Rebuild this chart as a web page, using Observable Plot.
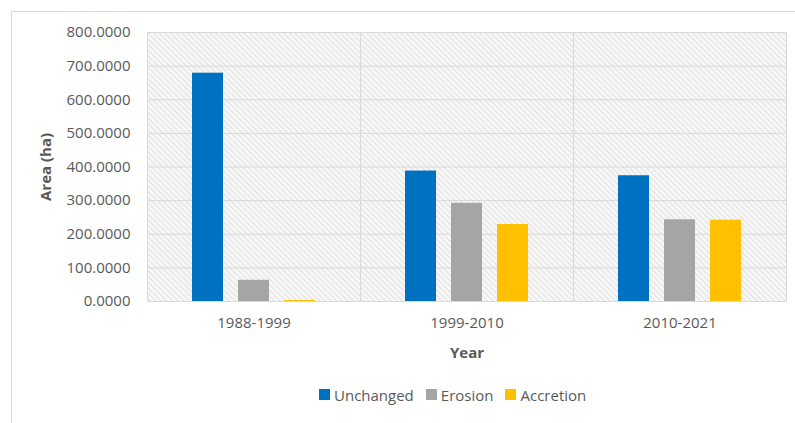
<!DOCTYPE html>
<html>
<head>
<meta charset="utf-8">
<script src="https://cdn.jsdelivr.net/npm/d3@7"></script>
<script src="https://cdn.jsdelivr.net/npm/@observablehq/plot@0.6"></script>
<style>
  html, body { margin: 0; padding: 0; background: #fff; }
  #wrap { position: relative; width: 795px; height: 423px; overflow: hidden; font-family: "Open Sans", sans-serif; }
  #border { position: absolute; left: 11px; top: 11px; width: 800px; height: 420px; border-left: 1px solid #d9d9d9; border-top: 1px solid #d9d9d9; }
  #chart { position: absolute; left: 0; top: 0; }
  #legend { position: absolute; top: 378px; left: 319px; }
</style>
</head>
<body>
<div id="wrap">
  <div id="border"></div>
  <div id="chart"></div>
  <div id="legend"></div>
</div>
<script>
const years = ["1988-1999", "1999-2010", "2010-2021"];
const series = ["Unchanged", "Erosion", "Accretion"];
const unchanged = [679, 388, 374];
const erosion = [63, 292, 243];
const accretion = [3, 229, 242];
const colors = ["#0070C0", "#A5A5A5", "#FFC000"];
const yTicks = [0, 100, 200, 300, 400, 500, 600, 700, 800];

const values = {Unchanged: unchanged, Erosion: erosion, Accretion: accretion};
const data = years.flatMap((yr, i) => series.map(s => ({year: yr, series: s, value: values[s][i]})));

const plot = Plot.plot({
  width: 795,
  height: 423,
  marginTop: 32,
  marginLeft: 146,
  marginRight: 8,
  marginBottom: 122,
  style: {fontFamily: "Open Sans, sans-serif", fontSize: "15px", color: "#595959", background: "transparent", overflow: "visible"},
  fx: {domain: years, padding: 0, label: "Year", axis: null},
  x: {domain: series, paddingInner: 0.32, paddingOuter: 0.93, axis: null},
  y: {domain: [0, 800], label: "Area (ha)"},
  color: {domain: series, range: colors},
  marks: [
    Plot.frame({fill: "url(#hatch)", stroke: "#d9d9d9", strokeWidth: 1}),
    Plot.gridY(yTicks, {stroke: "#d9d9d9", strokeOpacity: 1, strokeWidth: 1}),
    Plot.barY(data, {fx: "year", x: "series", y: "value", fill: "series"}),
    Plot.axisY(yTicks, {tickSize: 0, tickPadding: 17, tickFormat: d3.format(".4f"), label: "Area (ha)", labelAnchor: "center", labelArrow: "none", labelOffset: 107, fill: "#595959"}),
    Plot.axisFx({anchor: "bottom", tickSize: 0, tickPadding: 16, label: "Year", labelAnchor: "center", labelArrow: "none", labelOffset: 56, fill: "#595959"})
  ]
});

// hatch pattern definition
const svg = d3.select(plot);
const defs = svg.insert("defs", ":first-child");
const pat = defs.append("pattern")
  .attr("id", "hatch")
  .attr("patternUnits", "userSpaceOnUse")
  .attr("width", 4).attr("height", 4)
  .attr("patternTransform", "rotate(-45)");
pat.append("rect").attr("width", 4).attr("height", 4).attr("fill", "#f7f7f7");
pat.append("line").attr("x1", 0).attr("y1", 0).attr("x2", 0).attr("y2", 4)
  .attr("stroke", "#d6d6d6").attr("stroke-width", 1.4);

svg.selectAll('g[aria-label="y-axis label"] text, g[aria-label="fx-axis label"] text')
  .attr("font-weight", "bold");

document.getElementById("chart").appendChild(plot);

const legend = plot.legend("color", {
  legend: "swatches",
  swatchSize: 11,
  style: {fontFamily: "Open Sans, sans-serif", fontSize: "15px", color: "#595959", margin: "0"}
});
const lg = d3.select(legend);
lg.selectAll(":scope > span").style("margin-right", "12px");
lg.selectAll("svg").style("margin-right", "4px");
document.getElementById("legend").appendChild(legend);
</script>
</body>
</html>
